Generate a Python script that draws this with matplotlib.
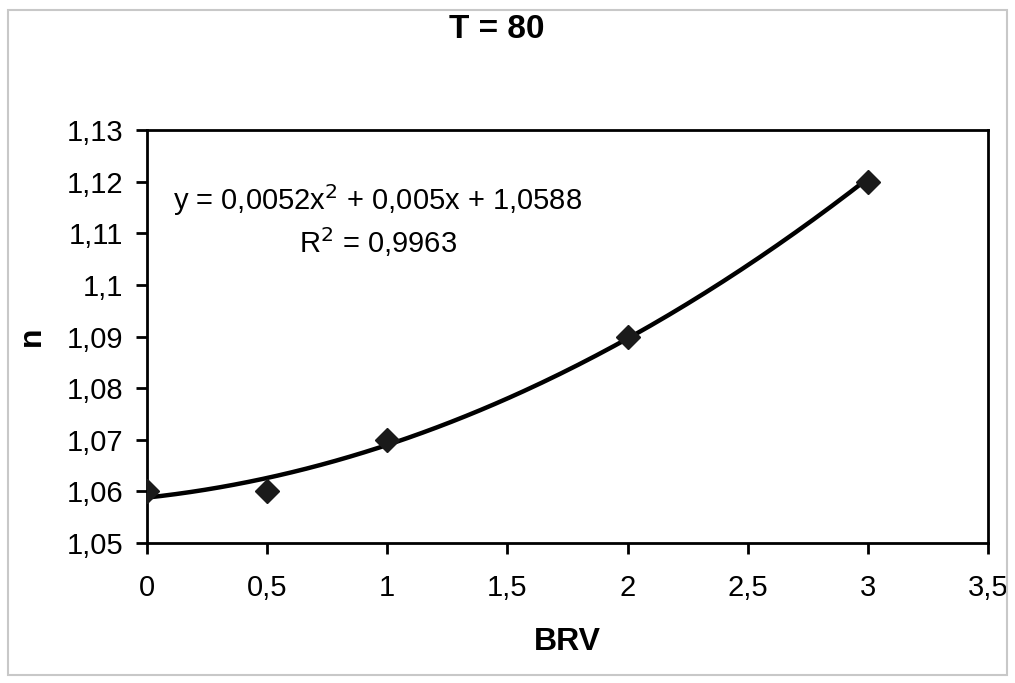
import numpy as np
import matplotlib.pyplot as plt
from matplotlib.patches import Rectangle

# measured points
brv = [0, 0.5, 1, 2, 3]
n_vals = [1.06, 1.06, 1.07, 1.09, 1.12]

# quadratic trendline coefficients
coef = [0.0052, 0.005, 1.0588]
r2 = 0.9963

xticks = [0, 0.5, 1, 1.5, 2, 2.5, 3, 3.5]
yticks = [1.05, 1.06, 1.07, 1.08, 1.09, 1.10, 1.11, 1.12, 1.13]


def comma(v, dec):
    s = f"{v:.{dec}f}".rstrip("0").rstrip(".")
    return s.replace(".", ",")


plt.rcParams["font.family"] = ["Liberation Sans", "DejaVu Sans"]

fig = plt.figure(figsize=(10.15, 6.83), dpi=100)
ax = fig.add_axes([147 / 1015, 1 - 543 / 683, (988 - 147) / 1015, (543 - 130) / 683])

# outer chart frame
fig.patches.append(Rectangle((8 / 1015, 8 / 683), 999 / 1015, 665 / 683,
                             transform=fig.transFigure, fill=False,
                             edgecolor="#c8c8c8", linewidth=1.5))

xs = np.linspace(brv[0], brv[-1], 200)
ax.plot(xs, np.polyval(coef, xs), color="black", linewidth=3.2, zorder=2)
ax.plot(brv, n_vals, linestyle="none", marker="D", markersize=12.5,
        color="#1a1a1a", zorder=3)

ax.set_xlim(0, 3.5)
ax.set_ylim(1.05, 1.13)
ax.set_xticks(xticks)
ax.set_yticks(yticks)
ax.set_xticklabels([comma(v, 1) for v in xticks])
ax.set_yticklabels([comma(v, 2) for v in yticks])
ax.tick_params(direction="out", length=8, width=2, labelsize=21, pad=9,
               colors="black")
ax.tick_params(axis="x", pad=14)
for sp in ax.spines.values():
    sp.set_linewidth(2)
    sp.set_color("black")

ax.set_xlabel("BRV", fontsize=23, fontweight="bold", labelpad=18)
ax.set_ylabel("n", fontsize=23, fontweight="bold", labelpad=14)
fig.text(497 / 1015, 1 - 30 / 683, "T = 80", ha="center", va="center",
         fontsize=24, fontweight="bold")

eq = (f"y = {comma(coef[0], 4)}x$^2$ + {comma(coef[1], 4)}x + {comma(coef[2], 4)}"
      f"\nR$^2$ = {comma(r2, 4)}")
ax.text(0.96, 1.1124, eq, ha="center", va="center", fontsize=21,
        linespacing=1.25, multialignment="center")

fig.savefig("out.png", dpi=100)
